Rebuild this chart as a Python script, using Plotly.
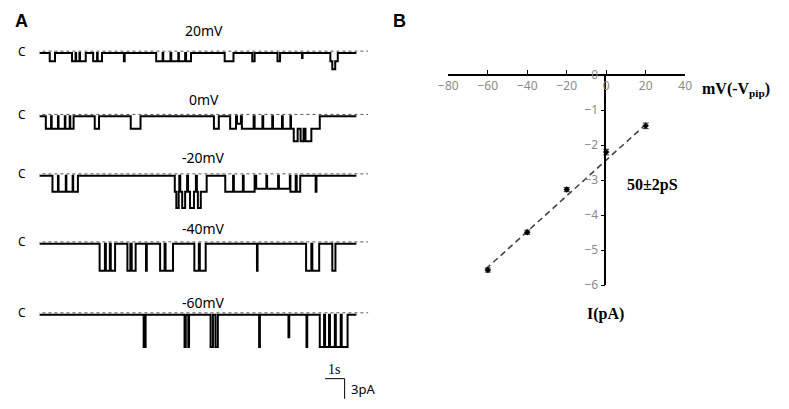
import numpy as np
import plotly.graph_objects as go

W, H = 789, 409

# ---- Panel A: single-channel records (openings) ----
trace_labels = ["20mV", "0mV", "-20mV", "-40mV", "-60mV"]
unit_amp_pA = [1.2, 1.85, 2.4, 4.0, 4.8]   # apparent unitary amplitude per record
record_len_s = 16.2

# (start s, end s, number of open channels)
open_20 = [(0.53, 0.80, 1),
           (1.67, 1.85, 1), (1.88, 2.05, 1), (2.08, 2.37, 1),
           (2.75, 2.95, 1), (2.98, 3.20, 1),
           (4.32, 4.36, 1),
           (5.97, 6.30, 1), (6.33, 6.70, 1), (6.74, 7.10, 1), (7.13, 7.45, 1), (7.50, 7.75, 1),
           (9.47, 9.92, 1),
           (10.88, 11.00, 1),
           (12.17, 12.30, 1),
           (13.42, 13.45, 0.6),
           (14.87, 15.25, 1), (14.97, 15.12, 1)]
open_0 = [(0.33, 0.60, 1), (0.63, 0.95, 1), (0.98, 1.30, 1), (1.33, 1.55, 1), (1.58, 1.75, 1),
          (2.83, 3.05, 1),
          (4.67, 5.17, 1),
          (8.92, 9.17, 1),
          (9.75, 10.05, 1), (10.10, 10.30, 0.6), (10.35, 10.95, 1),
          (11.00, 11.40, 1), (11.44, 11.90, 1), (11.94, 12.40, 1), (12.44, 12.83, 1),
          (12.86, 14.33, 1), (13.00, 13.20, 1), (13.35, 13.50, 1), (13.60, 13.90, 1)]
open_m20 = [(0.67, 0.95, 1), (0.98, 1.35, 1), (1.38, 1.70, 1), (1.73, 1.97, 1),
            (6.92, 7.15, 1), (7.20, 7.55, 1), (7.60, 8.00, 1), (8.05, 8.55, 1),
            (7.00, 7.12, 1), (7.30, 7.45, 1), (7.70, 7.90, 1), (8.10, 8.25, 1),
            (9.50, 9.90, 1), (9.94, 10.40, 1), (10.44, 11.00, 1),
            (11.08, 11.60, 0.8), (11.64, 12.20, 0.8), (12.24, 12.80, 0.8),
            (12.83, 13.10, 1), (13.15, 13.33, 1),
            (14.12, 14.16, 1)]
open_m40 = [(3.08, 3.35, 1), (3.40, 3.60, 1), (3.65, 3.87, 1),
            (4.50, 4.65, 1), (4.72, 4.92, 1),
            (5.45, 5.49, 1),
            (6.17, 6.40, 1), (6.45, 6.83, 1),
            (7.92, 8.15, 1), (8.20, 8.50, 1),
            (11.12, 11.15, 1),
            (13.63, 13.90, 1), (13.95, 14.30, 1),
            (14.97, 15.13, 1)]
open_m60 = [(5.33, 5.43, 1),
            (7.42, 7.48, 1), (7.61, 7.65, 1),
            (8.75, 8.87, 1), (9.00, 9.12, 1),
            (11.23, 11.27, 1),
            (12.73, 12.77, 0.7),
            (13.65, 13.69, 1),
            (14.33, 14.55, 1), (14.60, 14.80, 1), (14.85, 15.10, 1), (15.15, 15.40, 1), (15.45, 15.75, 1)]
openings = [open_20, open_0, open_m20, open_m40, open_m60]

# ---- Panel B: I-V relation ----
iv_mv = [-60, -40, -20, 0, 20]
iv_pa = [-5.57, -4.49, -3.27, -2.20, -1.45]
iv_err = [0.06, 0.06, 0.06, 0.08, 0.08]
fit_slope = 0.051      # pA/mV  (~50 pS)
fit_icept = -2.43
fit_mv = [-61, 20]

# layout helpers (pixel positions in the 789x409 picture)
px_per_s, px_per_pA = 20.0, 7.0
dash_px = [44, 110, 172, 243, 317]     # dashed "C" level of each record
label_px = [22, 94, 155, 229, 306]


def px(x, y):
    return x / W, 1 - y / H


def step_record(events, t_end):
    edges = sorted({0.0, t_end} | {e[0] for e in events} | {e[1] for e in events})
    lv = []
    for a in edges:
        lv.append(sum(n for s, e, n in events if s <= a < e))
    return np.array(edges), np.array(lv)


fig = go.Figure()

for k, ev in enumerate(openings):
    t, n = step_record(ev, record_len_s)
    c_level = -dash_px[k] / px_per_pA
    base = c_level - 2 / px_per_pA
    fig.add_trace(go.Scatter(x=[-0.15, 16.8], y=[c_level, c_level], mode="lines",
                             line=dict(color="#555", width=1, dash="3px,3px"),
                             xaxis="x", yaxis="y", hoverinfo="skip"))
    fig.add_trace(go.Scatter(x=t, y=base - n * unit_amp_pA[k], mode="lines",
                             line=dict(color="black", width=2, shape="hv"),
                             xaxis="x", yaxis="y", name=trace_labels[k]))

# scale bar 1 s / 3 pA
sb_t, sb_y = 14.6, -385.7 / px_per_pA
fig.add_trace(go.Scatter(x=[sb_t, sb_t + 1, sb_t + 1], y=[sb_y, sb_y, sb_y - 3],
                         mode="lines", line=dict(color="black", width=1),
                         xaxis="x", yaxis="y", hoverinfo="skip"))

# I-V points and fit
fig.add_trace(go.Scatter(x=fit_mv, y=[fit_slope * v + fit_icept for v in fit_mv],
                         mode="lines", line=dict(color="#444", width=1.6, dash="6px,4px"),
                         xaxis="x2", yaxis="y2", hoverinfo="skip"))
fig.add_trace(go.Scatter(x=iv_mv, y=iv_pa, mode="markers",
                         marker=dict(symbol="diamond", size=5, color="black"),
                         error_y=dict(type="data", array=iv_err, color="#333",
                                      thickness=1, width=3),
                         xaxis="x2", yaxis="y2"))

fig.update_layout(
    width=W, height=H, margin=dict(l=0, r=0, t=0, b=0),
    paper_bgcolor="white", plot_bgcolor="rgba(0,0,0,0)", showlegend=False,
    font=dict(family="Noto Sans", color="black"),
    xaxis=dict(domain=[30 / W, 370 / W], range=[0, 17], visible=False),
    yaxis=dict(domain=[0, 1], range=[-H / px_per_pA, 0], visible=False),
    xaxis2=dict(domain=[448 / W, 690 / W], range=[-80, 40], anchor="free",
                position=1 - 69 / H, side="bottom",
                showline=True, linecolor="black", linewidth=1.5, showgrid=False,
                zeroline=False, ticks="inside", ticklen=4, tickcolor="black",
                dtick=20, tickfont=dict(size=12, color="#8a8a8a")),
    yaxis2=dict(domain=[1 - 288 / H, 1 - 69 / H], range=[-6, 0], anchor="free",
                position=608.5 / W, showline=True, linecolor="black", linewidth=1.5,
                showgrid=False, zeroline=False, ticks="outside", ticklen=4,
                tickcolor="black", dtick=1, tickfont=dict(size=12, color="#8a8a8a")),
)

ann = []
for k, lab in enumerate(trace_labels):
    x, y = px(198, label_px[k])
    ann.append(dict(x=x, y=y, text=lab, font=dict(size=14)))
    x, y = px(12, dash_px[k])
    ann.append(dict(x=x, y=y, text="C", font=dict(size=12)))
serif = "Liberation Serif"
for text, (x, y), size, fam in [
    ("<b>A</b>", (12, 12), 18, "Liberation Sans"),
    ("<b>B</b>", (398, 13), 18, "Liberation Sans"),
    ("<b>mV(-V<sub>pip</sub>)</b>", (742, 84), 16, serif),
    ("<b>I(pA)</b>", (609, 318), 16, serif),
    ("<b>50±2pS</b>", (657, 184), 16, serif),
    ("1s", (331, 376), 14, serif),
    ("3pA", (361, 397), 13, "Noto Sans"),
]:
    xx, yy = px(x, y)
    ann.append(dict(x=xx, y=yy, text=text, font=dict(size=size, family=fam)))
for a in ann:
    a.update(xref="paper", yref="paper", showarrow=False, xanchor="center", yanchor="middle")
fig.update_layout(annotations=ann)

fig.write_html("out.html", config={"displayModeBar": False},
               post_script="document.body.style.margin='0';")
